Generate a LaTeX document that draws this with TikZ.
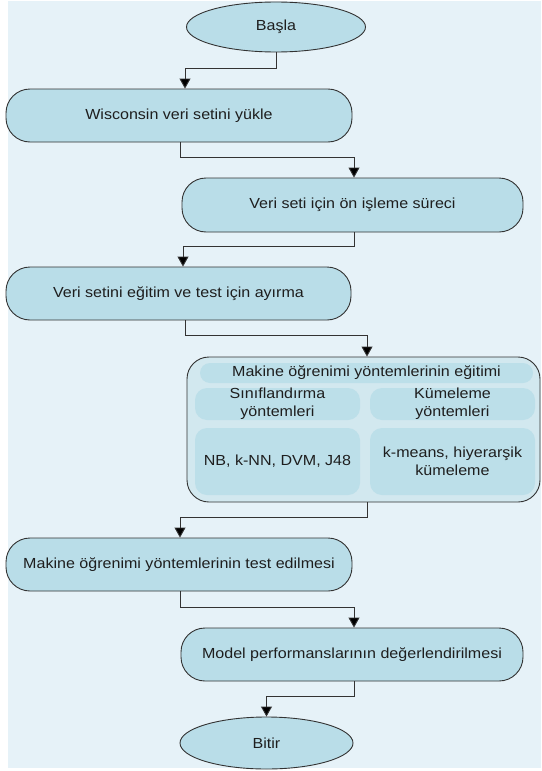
\documentclass[tikz,border=0pt]{standalone}
\usepackage{fontspec}
\setmainfont[FakeStretch=1.1]{Liberation Sans}
\usetikzlibrary{arrows.meta,shapes.geometric}
\definecolor{bgc}{HTML}{E6F2F8}
\definecolor{boxc}{HTML}{B9DDE8}
\definecolor{outerc}{HTML}{D2E8EF}
\definecolor{innerc}{HTML}{BCDFE9}
\definecolor{linec}{HTML}{333333}
\definecolor{txtc}{HTML}{1E1E1E}
\begin{document}
\begin{tikzpicture}[x=1pt,y=-1pt,
  every node/.style={font=\fontsize{14.6}{18}\selectfont, text=txtc, inner sep=0pt},
  term/.style={ellipse, draw=linec, line width=0.9pt, fill=boxc},
  proc/.style={rectangle, draw=linec, line width=0.9pt, fill=boxc, rounded corners=24pt},
  bigbox/.style={rectangle, draw=linec, line width=0.9pt, fill=outerc, rounded corners=22pt},
  inbar/.style={rectangle, fill=innerc, rounded corners=10pt, align=center},
  arr/.style={draw=linec, line width=0.9pt, -{Triangle[width=11pt,length=10pt,fill=black]}}
]
\useasboundingbox (0,0) rectangle (541,771);
\fill[bgc] (8,1) rectangle (541,768);

\node[term, minimum width=179pt, minimum height=50pt] (basla) at (276,27) {Başla};
\node[proc, minimum width=346pt, minimum height=53pt] (b1) at (179,115.5) {Wisconsin veri setini yükle};
\node[proc, minimum width=341pt, minimum height=54pt] (b2) at (352.5,205) {Veri seti için ön işleme süreci};
\node[proc, minimum width=345pt, minimum height=53pt] (b3) at (178.5,293.5) {Veri setini eğitim ve test için ayırma};
\node[bigbox, minimum width=353pt, minimum height=145pt] (big) at (363.5,429.5) {};
\node[inbar, minimum width=333pt, minimum height=20pt] (title) at (366.5,373) {Makine öğrenimi yöntemlerinin eğitimi};
\node[inbar, minimum width=165pt, minimum height=32pt, rounded corners=12pt] (sin) at (277.5,404) {Sınıflandırma\\yöntemleri};
\node[inbar, minimum width=165pt, minimum height=32pt, rounded corners=12pt] (kum) at (452.5,404) {Kümeleme\\yöntemleri};
\node[inbar, minimum width=165pt, minimum height=67pt, rounded corners=12pt] (sinc) at (277.5,461.5) {NB, k-NN, DVM, J48};
\node[inbar, minimum width=165pt, minimum height=67pt, rounded corners=12pt] (kumc) at (452.5,461.5) {k-means, hiyerarşik\\kümeleme};
\node[proc, minimum width=346pt, minimum height=53pt] (b4) at (179,564.5) {Makine öğrenimi yöntemlerinin test edilmesi};
\node[proc, minimum width=342pt, minimum height=53pt] (b5) at (352,654.5) {Model performanslarının değerlendirilmesi};
\node[term, minimum width=173pt, minimum height=52pt] (bitir) at (266.5,743) {Bitir};

\draw[arr] (basla.south) -- ++(0,16) -| ([xshift=6pt]b1.north);
\draw[arr] ([xshift=1pt]b1.south) -- ++(0,15) -| ([xshift=1.5pt]b2.north);
\draw[arr] ([xshift=1.5pt]b2.south) -- ++(0,14) -| ([xshift=4.5pt]b3.north);
\draw[arr] ([xshift=6.5pt]b3.south) -- ++(0,15) -| ([xshift=3.5pt]big.north);
\draw[arr] ([xshift=3.5pt]big.south) -- ++(0,15) -| ([xshift=1pt]b4.north);
\draw[arr] ([xshift=1pt]b4.south) -- ++(0,16) -| ([xshift=2pt]b5.north);
\draw[arr] ([xshift=2pt]b5.south) -- ++(0,15) -| (bitir.north);
\end{tikzpicture}
\end{document}
